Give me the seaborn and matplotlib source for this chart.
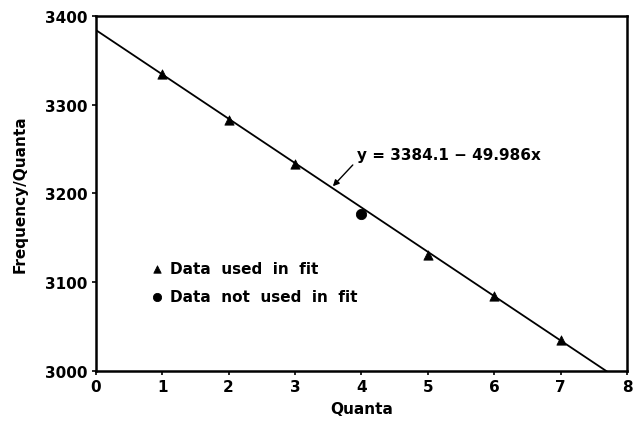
import numpy as np
import pandas as pd
import matplotlib
matplotlib.use("Agg")
import matplotlib.pyplot as plt
import seaborn as sns

# data
quanta_fit = [1, 2, 3, 5, 6, 7]
freq_fit = [3334, 3283, 3233, 3131, 3084, 3035]
quanta_nofit = [4]
freq_nofit = [3177]
intercept = 3384.1
slope = -49.986
x_ticks = [0, 1, 2, 3, 4, 5, 6, 7, 8]
y_ticks = [3000, 3100, 3200, 3300, 3400]

sns.set_theme(style="ticks")
plt.rcParams['font.family'] = ['DejaVu Sans']
plt.rcParams['font.weight'] = 'bold'
plt.rcParams['text.color'] = 'black'
plt.rcParams['axes.labelcolor'] = 'black'
plt.rcParams['xtick.color'] = 'black'
plt.rcParams['ytick.color'] = 'black'

fig = plt.figure(figsize=(6.38, 4.31), dpi=100)
ax = fig.add_axes([0.150, 0.137, 0.833, 0.824])

xl = np.linspace(0, 8, 50)
line_df = pd.DataFrame({"x": xl, "y": intercept + slope * xl})
sns.lineplot(data=line_df, x="x", y="y", ax=ax, color="black", lw=1.3)

df_fit = pd.DataFrame({"Quanta": quanta_fit, "Freq": freq_fit})
df_nofit = pd.DataFrame({"Quanta": quanta_nofit, "Freq": freq_nofit})
sns.scatterplot(data=df_fit, x="Quanta", y="Freq", marker="^", s=45,
                color="black", edgecolor="black", ax=ax,
                label="Data  used  in  fit", zorder=3)
sns.scatterplot(data=df_nofit, x="Quanta", y="Freq", marker="o", s=55,
                color="black", edgecolor="black", ax=ax,
                label="Data  not  used  in  fit", zorder=3)

ax.set_xlim(0, 8)
ax.set_ylim(3000, 3400)
ax.set_xticks(x_ticks)
ax.set_yticks(y_ticks)
ax.tick_params(axis='both', labelsize=11, length=3, width=1.2, color="black",
               labelcolor="black", pad=3)
for lab in ax.get_xticklabels() + ax.get_yticklabels():
    lab.set_fontweight('bold')
for sp in ax.spines.values():
    sp.set_visible(True)
    sp.set_linewidth(1.8)
    sp.set_color("black")

ax.set_xlabel("Quanta", fontsize=11, fontweight='bold', labelpad=5, color="black")
ax.set_ylabel("Frequency/Quanta", fontsize=11, fontweight='bold', labelpad=12, color="black")

ax.annotate("", xy=(3.57, 3208), xytext=(3.87, 3232),
            arrowprops=dict(arrowstyle="-|>", color="black", lw=1.0,
                            shrinkA=0, shrinkB=0, mutation_scale=9))
ax.text(3.93, 3244, "y = 3384.1 − 49.986x", fontsize=11, fontweight='bold',
        va='center', ha='left', color="black")

leg = ax.legend(loc="upper left", bbox_to_anchor=(0.075, 0.347), frameon=False,
                fontsize=11, handletextpad=0.35, labelspacing=0.85,
                handlelength=1.0, markerscale=0.8)
for t in leg.get_texts():
    t.set_fontweight('bold')
    t.set_color('black')

fig.savefig("out.png", dpi=100)
